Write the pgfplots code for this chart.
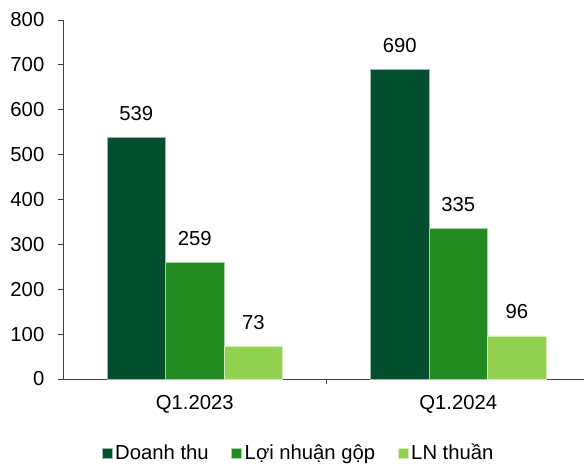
\documentclass[border=0pt]{standalone}
\usepackage{pgfplots}
\pgfplotsset{compat=1.18}
\usepackage{fontspec}
\setmainfont{Liberation Sans}
\newlength\px
\setlength\px{0.75pt}
\definecolor{cA}{HTML}{034E2E}
\definecolor{cB}{HTML}{228B22}
\definecolor{cC}{HTML}{92D050}
\pgfplotstableread{
x A B C
0 539 259 73
1 690 335 96
}\datatab
\begin{document}
\begin{tikzpicture}
\useasboundingbox (0,0) rectangle (584\px,469\px);
\begin{axis}[
  at={(63\px,90\px)}, anchor=south west,
  scale only axis,
  width=521\px, height=359\px,
  xmin=-0.5, xmax=1.477,
  ymin=0, ymax=800,
  ytick={0,100,...,800},
  xtick={0.5}, xticklabels={},
  extra x ticks={0,1}, extra x tick labels={Q1.2023,Q1.2024},
  extra x tick style={major tick length=0pt, xticklabel style={yshift=-12\px}},
  axis x line*=bottom, axis y line*=left,
  axis line style={black!75, line width=0.7pt},
  tick style={black!75, line width=0.7pt},
  tick align=outside, major tick length=5\px,
  font=\fontsize{15.2}{18}\selectfont,
  /pgf/number format/assume math mode=true,
  yticklabel style={xshift=-9\px},
  ybar=0pt, bar width=0.222,
  nodes near coords,
  every node near coord/.append style={font=\fontsize{15.2}{18}\selectfont, yshift=12\px},
  legend columns=3,
  legend style={draw=none, at={(0.453,-0.206)}, anchor=center,
    font=\fontsize{15.2}{18}\selectfont,
    /tikz/every even column/.append style={column sep=20\px},
    inner sep=0pt},
  legend image code/.code={\fill[#1] (0\px,-5\px) rectangle (10\px,5\px);},
]
\addplot[fill=cA, draw=white!60!cA, line width=0.5pt] table[x=x,y=A]{\datatab};
\addplot[fill=cB, draw=white!60!cB, line width=0.5pt] table[x=x,y=B]{\datatab};
\addplot[fill=cC, draw=white!60!cC, line width=0.5pt] table[x=x,y=C]{\datatab};
\legend{Doanh thu, Lợi nhuận gộp, LN thuần}
\end{axis}
\end{tikzpicture}
\end{document}
